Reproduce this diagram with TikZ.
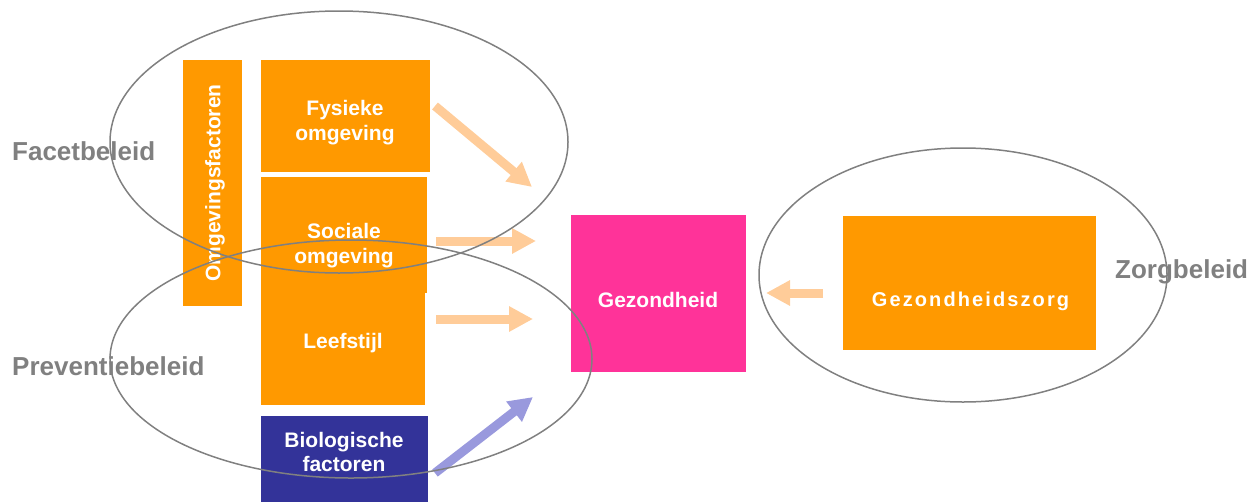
\documentclass[tikz,border=0pt]{standalone}
\usepackage{fontspec}
\setmainfont{Liberation Sans}
\newfontfamily\spacedfont[LetterSpace=10.5]{Liberation Sans}
\usetikzlibrary{arrows.meta,shapes.geometric}
\definecolor{orangebox}{HTML}{FF9900}
\definecolor{pinkbox}{HTML}{FF3399}
\definecolor{bluebox}{HTML}{333399}
\definecolor{lightarrow}{HTML}{FFCC99}
\definecolor{bluearrow}{HTML}{9999DD}
\definecolor{grayline}{HTML}{808080}
\begin{document}
\begin{tikzpicture}[x=1pt,y=-1pt,
  box/.style={draw=none,inner sep=0pt,outer sep=0pt},
  boxtext/.style={text=white,font=\fontsize{21}{25}\selectfont\bfseries,align=center,inner sep=0pt,anchor=north},
  beleid/.style={text=grayline,font=\fontsize{26}{30}\selectfont\bfseries,inner sep=0pt,anchor=base west},
  oval/.style={draw=grayline,line width=1.5pt,ellipse,inner sep=0pt,outer sep=0pt},
  flow/.style={draw=lightarrow,line width=9pt,-{Triangle[width=24pt,length=24pt]}},
  bioflow/.style={draw=bluearrow,line width=9pt,-{Triangle[width=24pt,length=24pt]}},
]
\useasboundingbox (0,0) rectangle (1260,501);

% boxes
\node[box,fill=orangebox,minimum width=59pt,minimum height=246pt] (omg) at (212.5,183) {};
\node[box,fill=orangebox,minimum width=169pt,minimum height=112pt] (fys) at (345.5,116) {};
\node[box,fill=orangebox,minimum width=166pt,minimum height=116pt] (soc) at (344,235) {};
\node[box,fill=orangebox,minimum width=164pt,minimum height=112pt] (lee) at (343,349) {};
\node[box,fill=bluebox,minimum width=167pt,minimum height=89pt] (bio) at (344.5,460.5) {};
\node[box,fill=pinkbox,minimum width=175pt,minimum height=157pt] (gez) at (658.5,293.5) {};
\node[box,fill=orangebox,minimum width=253pt,minimum height=134pt] (zorg) at (969.5,283) {};

% box texts
\node[boxtext,anchor=center,rotate=90] (omgt) at (215,183) {Omgevingsfactoren};
\node[boxtext] (fyst) at (345,100) {Fysieke\\omgeving};
\node[boxtext] (soct) at (344,223) {Sociale\\omgeving};
\node[boxtext] (leet) at (343,333) {Leefstijl};
\node[boxtext,font=\fontsize{21}{24}\selectfont\bfseries] (biot) at (344,432) {Biologische\\factoren};
\node[boxtext] (gezt) at (658,292.5) {Gezondheid};
\node[boxtext,font=\fontsize{20}{24}\spacedfont\bfseries] (zorgt) at (970.5,291.5) {Gezondheidszorg};

% arrows
\coordinate (a1s) at (435,106); \coordinate (a1e) at (532,187);
\coordinate (a2s) at (436,241); \coordinate (a2e) at (536,241);
\coordinate (a3s) at (436,319); \coordinate (a3e) at (533,319);
\coordinate (a4s) at (435,473); \coordinate (a4e) at (533,397);
\coordinate (a5s) at (823,293); \coordinate (a5e) at (766,293);
\draw[flow] (a1s) -- (a1e);
\draw[flow] (a2s) -- (a2e);
\draw[flow] (a3s) -- (a3e);
\draw[bioflow] (a4s) -- (a4e);
\draw[flow] (a5s) -- (a5e);

% ellipses
\node[oval,minimum width=458pt,minimum height=262pt] (facet) at (339,142) {};
\node[oval,minimum width=482pt,minimum height=238pt] (prev) at (351,359) {};
\node[oval,minimum width=408pt,minimum height=254pt] (zorgov) at (963,275) {};

% labels
\node[beleid] (facetl) at (12,160) {Facetbeleid};
\node[beleid] (prevl) at (12,375) {Preventiebeleid};
\node[beleid] (zorgl) at (1115,278) {Zorgbeleid};
\end{tikzpicture}
\end{document}
